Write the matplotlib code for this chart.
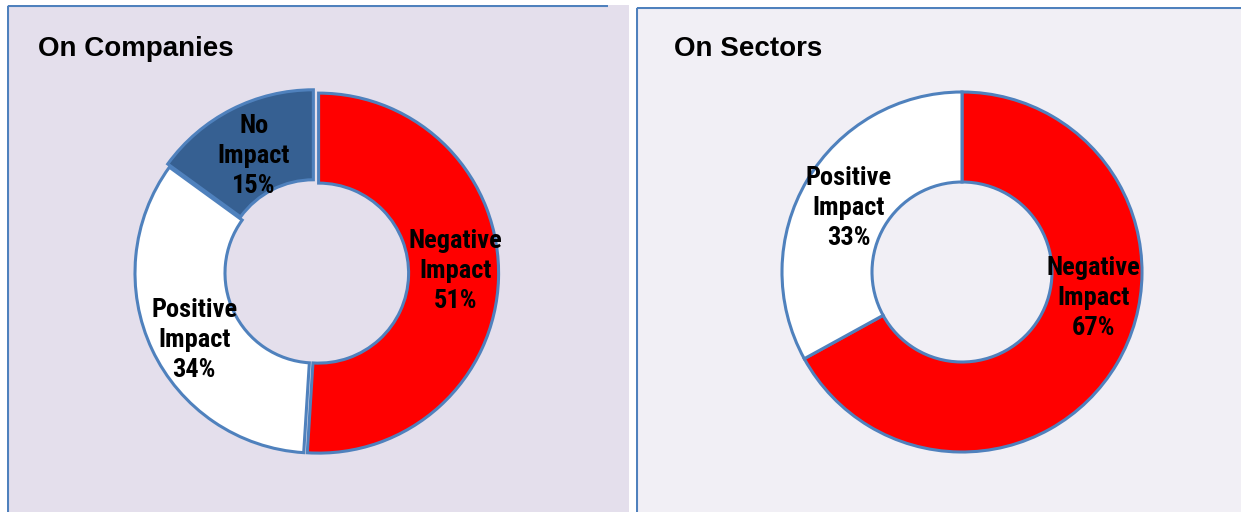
import matplotlib
matplotlib.use("Agg")
import matplotlib.pyplot as plt
from matplotlib import font_manager
import numpy as np

# data
companies_labels = ["Negative\nImpact", "Positive\nImpact", "No\nImpact"]
companies_values = [51, 34, 15]
sectors_labels = ["Negative\nImpact", "Positive\nImpact"]
sectors_values = [67, 33]

W, H = 1241, 512
fig = plt.figure(figsize=(W / 100, H / 100), dpi=100)
fig.patch.set_facecolor("white")

edge = "#4F81BD"

# narrow font if one is around, otherwise plain Liberation Sans a bit smaller
installed = {f.name for f in font_manager.fontManager.ttflist}
narrow = [n for n in ["Liberation Sans Narrow", "Arial Narrow", "Roboto Condensed"] if n in installed]
if narrow:
    label_font = [narrow[0], "DejaVu Sans"]
    label_size = 19
    label_ls = 1.32
else:
    label_font = ["Liberation Sans", "DejaVu Sans"]
    label_size = 16.5
    label_ls = 1.38


def px_axes(x0, y0, w, h):
    # pixel box (top-left origin) -> figure axes
    return fig.add_axes([x0 / W, 1 - (y0 + h) / H, w / W, h / H])


def panel(x0, y0, x1, bg, top_end):
    ax = px_axes(x0, y0, x1 - x0, H - y0)
    ax.set_xlim(x0, x1)
    ax.set_ylim(H, y0)
    ax.axis("off")
    ax.add_patch(plt.Rectangle((x0, y0), x1 - x0, H - y0, facecolor=bg, edgecolor="none"))
    ax.plot([x0 + 1, x0 + 1], [H, y0 + 1], color=edge, lw=1.5, solid_capstyle="butt")
    ax.plot([x0 + 1, top_end], [y0 + 1, y0 + 1], color=edge, lw=1.5, solid_capstyle="butt")
    return ax


def donut(cx, cy, r, values, labels, colors, explode, label_pos=None):
    half = 230
    ax = px_axes(cx - half, cy - half, 2 * half, 2 * half)
    wedges, _ = ax.pie(values, colors=colors, startangle=90, counterclock=False,
                       explode=explode, radius=1.0,
                       wedgeprops=dict(width=0.5, edgecolor=edge, linewidth=2.2))
    lim = half / r
    ax.set_xlim(-lim, lim)
    ax.set_ylim(-lim, lim)
    ax.set_aspect("equal")
    ax.axis("off")
    for i, (w, lab, v) in enumerate(zip(wedges, labels, values)):
        ang, lr = (w.theta1 + w.theta2) / 2, 0.76
        if label_pos and i in label_pos:
            ang, lr = label_pos[i]
        a = np.deg2rad(ang)
        x = w.center[0] + lr * np.cos(a)
        y = w.center[1] + lr * np.sin(a) - 3 / r
        ax.text(x, y, f"{lab}\n{v}%", ha="center", va="center", fontsize=label_size,
                fontweight="bold", family=label_font, linespacing=label_ls, color="black")
    return ax


# left panel
panel(7, 5, 629, "#E4DFEC", 608)
fig.text(38 / W, 1 - 56 / H, "On Companies", fontsize=20, fontweight="bold",
         family=["Liberation Sans", "DejaVu Sans"], ha="left", va="baseline")
donut(315, 273, 180, companies_values, companies_labels,
      ["#FF0000", "#FFFFFF", "#366092"], [0.02, 0.0, 0.02],
      label_pos={0: (2, 0.76), 1: (208, 0.76), 2: (117, 0.73)})

# right panel
panel(636, 7, W, "#F1EFF5", W)
fig.text(674 / W, 1 - 56 / H, "On Sectors", fontsize=20, fontweight="bold",
         family=["Liberation Sans", "DejaVu Sans"], ha="left", va="baseline")
donut(962, 272, 180, sectors_values, sectors_labels,
      ["#FF0000", "#FFFFFF"], [0.0, 0.0],
      label_pos={0: (-10, 0.74), 1: (149.5, 0.73)})

fig.savefig("out.png", dpi=100, facecolor=fig.get_facecolor())
